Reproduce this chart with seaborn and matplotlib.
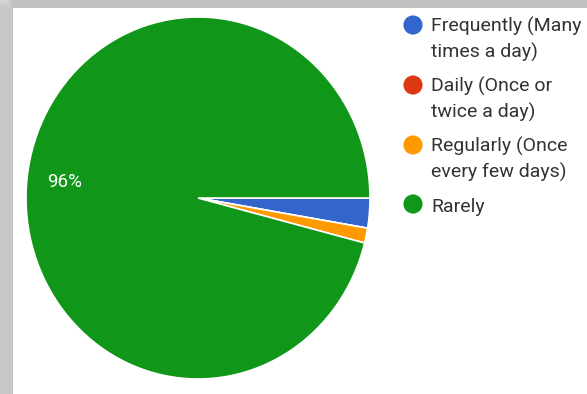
import numpy as np
import matplotlib
matplotlib.use("Agg")
import matplotlib.pyplot as plt
import seaborn as sns

# Data
categories = ["Frequently (Many\ntimes a day)", "Daily (Once or\ntwice a day)",
              "Regularly (Once\nevery few days)", "Rarely"]
values = [2.67, 0.0, 1.33, 96.0]
colors = ["#3366cc", "#dc3912", "#ff9900", "#109618"]

sns.set_theme(style="white")
plt.rcParams["font.family"] = ["Roboto", "DejaVu Sans"]

W, H = 587, 394
fig = plt.figure(figsize=(W / 100, H / 100), dpi=100)

# background: screenshot shadow frame
bg = fig.add_axes([0, 0, 1, 1])
bg.set_xlim(0, W)
bg.set_ylim(H, 0)
bg.axis("off")
xs = np.arange(W)
ys = np.arange(H)
X, Y = np.meshgrid(xs, ys)
left = np.clip(X / 13.0, 0, 1)
top = np.clip(Y / 8.0, 0, 1)
inside = (X >= 13) & (Y >= 8)
gray = np.minimum(0.88 - 0.12 * left, 0.84 - 0.06 * top)
img = np.where(inside, 1.0, gray)
bg.imshow(img, cmap="gray", vmin=0, vmax=1, extent=(0, W, H, 0), aspect="auto",
          interpolation="bilinear")

# pie axes (slightly stretched vertically like the reference)
cx, cy, rx, ry = 198, 198, 172, 181
ax = fig.add_axes([(cx - rx) / W, (H - (cy + ry)) / H, 2 * rx / W, 2 * ry / H])
wedges, _ = ax.pie(values, colors=colors, startangle=0, counterclock=False,
                   wedgeprops=dict(edgecolor="white", linewidth=1.2))
ax.set_aspect("auto")
ax.set_xlim(-1, 1)
ax.set_ylim(-1, 1)
ax.axis("off")

# percentage label on the large slice
ax.text((65 - cx) / rx, (cy - 182) / ry, f"{values[3]:.0f}%", color="white",
        fontsize=13.5, ha="center", va="center")

# legend (drawn in pixel coordinates of the background axes)
marker_y = [25, 85, 145, 204]
first_baseline_y = [33, 93, 153, 212]
line_step = 25
sns.scatterplot(x=[413] * len(colors), y=marker_y, hue=categories, palette=colors,
                s=190, linewidth=0, legend=False, ax=bg, zorder=5)
for lab, yb in zip(categories, first_baseline_y):
    n_lines = lab.count("\n") + 1
    bg.text(431, yb + (n_lines - 1) * line_step, lab, fontsize=14, color="#333333",
            ha="left", va="baseline", linespacing=1.5)
bg.set_xlim(0, W)
bg.set_ylim(H, 0)
bg.axis("off")

fig.savefig("out.png", dpi=100)
